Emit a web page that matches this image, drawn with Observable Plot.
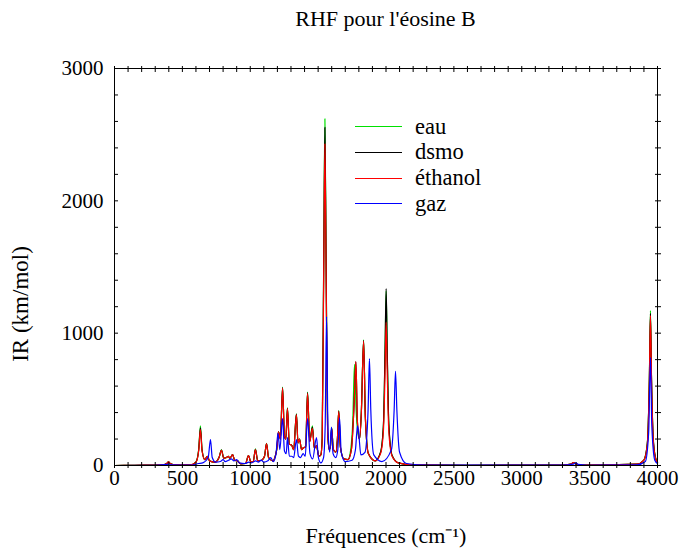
<!DOCTYPE html>
<html><head><meta charset="utf-8">
<script src="https://cdn.jsdelivr.net/npm/d3@7"></script>
<script src="https://cdn.jsdelivr.net/npm/@observablehq/plot@0.6"></script>
<style>
body{margin:0;background:#fff;font-family:"Liberation Serif","Times New Roman",serif;color:#000;}
#wrap{position:relative;width:679px;height:548px;overflow:hidden;}
#title{position:absolute;left:114px;width:543px;top:6px;text-align:center;font-size:22px;}
#chart{position:absolute;top:38px;left:0;}
#legend{position:absolute;left:355px;top:114px;font-size:22.5px;line-height:1;}
.row{display:flex;align-items:center;height:25.7px;}
.sw{width:47px;height:0;border-top:1.2px solid;margin-right:13px;}
</style></head>
<body>
<div id="wrap">
  <div id="title">RHF pour l'éosine B</div>
  <div id="chart"></div>
  <div id="legend"></div>
</div>
<script>
// Series names and colours
const seriesNames = ["eau", "dsmo", "éthanol", "gaz"];
const seriesColors = ["#00e000", "#000000", "#ff0000", "#0000ff"];

// Tick values
const xMajor = [0, 500, 1000, 1500, 2000, 2500, 3000, 3500, 4000];
const xMinor = d3.range(0, 4001, 100);
const yMajor = [0, 1000, 2000, 3000];
const yMinor = d3.range(0, 3001, 200);

// Spectra: [fréquence (cm-1), IR (km/mol)]
const ethanol = [[0,0],[150,2],[350,5],[385,15],[398,28],[410,15],[450,5],[560,5],[600,25],[620,110],[633,272],[645,110],[665,45],[685,70],[700,35],[740,25],[770,60],[788,115],[805,55],[825,60],[838,70],[850,55],[870,82],[885,40],[906,35],[930,12],[965,15],[987,75],[1005,25],[1022,30],[1038,120],[1055,35],[1085,40],[1105,70],[1120,165],[1135,60],[1165,35],[1195,120],[1208,255],[1222,200],[1238,585],[1252,220],[1262,200],[1274,430],[1288,160],[1304,155],[1320,120],[1340,385],[1352,170],[1363,200],[1378,120],[1392,135],[1408,140],[1422,545],[1438,180],[1458,280],[1472,130],[1488,150],[1505,70],[1520,80],[1530,200],[1542,1550],[1550,2430],[1558,1550],[1570,250],[1582,120],[1590,140],[1600,280],[1612,120],[1630,100],[1642,200],[1652,410],[1664,140],[1690,50],[1720,45],[1745,120],[1765,460],[1778,785],[1790,320],[1805,200],[1818,390],[1835,940],[1848,360],[1870,90],[1920,35],[1960,90],[1981,260],[1993,700],[2001,1083],[2009,700],[2021,250],[2045,70],[2090,20],[2200,5],[2600,2],[3300,3],[3360,10],[3382,22],[3400,10],[3450,3],[3850,10],[3900,40],[3925,160],[3940,640],[3948,1133],[3956,640],[3971,160],[3990,40],[4000,25]];

const eau = [[0,0],[150,2],[350,5],[385,15],[398,28],[410,15],[450,5],[560,5],[600,28],[620,120],[633,300],[645,120],[665,45],[685,70],[700,35],[740,25],[770,60],[788,118],[805,55],[825,60],[838,70],[850,55],[870,82],[885,40],[906,35],[930,12],[965,15],[987,75],[1005,25],[1022,30],[1038,125],[1055,35],[1085,40],[1105,70],[1120,168],[1135,60],[1165,35],[1195,120],[1208,255],[1222,200],[1238,592],[1252,220],[1262,200],[1274,435],[1288,160],[1304,155],[1320,120],[1340,390],[1352,170],[1363,200],[1378,120],[1392,135],[1408,140],[1422,555],[1438,185],[1458,300],[1472,130],[1488,150],[1505,70],[1520,80],[1530,210],[1542,1680],[1550,2620],[1558,1680],[1570,260],[1582,120],[1590,140],[1600,285],[1612,120],[1630,100],[1642,200],[1652,415],[1664,140],[1690,50],[1720,45],[1740,120],[1755,330],[1768,765],[1780,420],[1792,250],[1805,200],[1818,395],[1835,950],[1848,365],[1870,90],[1920,35],[1960,100],[1981,300],[1993,850],[2001,1320],[2009,850],[2021,300],[2045,75],[2090,20],[2200,5],[2600,2],[3300,3],[3360,10],[3382,22],[3400,10],[3450,3],[3850,10],[3900,42],[3925,170],[3940,660],[3948,1170],[3956,660],[3971,170],[3990,42],[4000,25]];

const dsmo = [[0,0],[150,2],[350,5],[385,15],[398,28],[410,15],[450,5],[560,5],[600,26],[620,115],[633,285],[645,115],[665,45],[685,70],[700,35],[740,25],[770,60],[788,116],[805,55],[825,60],[838,70],[850,55],[870,82],[885,40],[906,35],[930,12],[965,15],[987,75],[1005,25],[1022,30],[1038,122],[1055,35],[1085,40],[1105,70],[1120,166],[1135,60],[1165,35],[1195,120],[1208,255],[1222,200],[1238,588],[1252,220],[1262,200],[1274,432],[1288,160],[1304,155],[1320,120],[1340,388],[1352,170],[1363,200],[1378,120],[1392,135],[1408,140],[1422,550],[1438,182],[1458,290],[1472,130],[1488,150],[1505,70],[1520,80],[1530,205],[1542,1640],[1550,2555],[1558,1640],[1570,255],[1582,120],[1590,140],[1600,282],[1612,120],[1630,100],[1642,200],[1652,412],[1664,140],[1690,50],[1720,45],[1745,120],[1765,460],[1778,785],[1790,320],[1805,200],[1818,392],[1835,945],[1848,362],[1870,90],[1920,35],[1960,100],[1981,310],[1993,870],[2001,1337],[2009,870],[2021,310],[2045,75],[2090,20],[2200,5],[2600,2],[3300,3],[3360,10],[3382,22],[3400,10],[3450,3],[3850,10],[3900,41],[3925,165],[3940,650],[3948,1150],[3956,650],[3971,165],[3990,41],[4000,25]];

const gaz = [[0,0],[300,2],[390,8],[400,12],[415,5],[560,3],[620,15],[650,20],[690,60],[707,195],[720,60],[745,25],[780,30],[800,45],[815,30],[840,40],[860,50],[880,35],[900,45],[920,20],[960,15],[990,25],[1010,20],[1040,35],[1060,25],[1080,40],[1100,25],[1130,35],[1150,60],[1170,30],[1190,90],[1204,245],[1218,120],[1238,355],[1252,110],[1265,90],[1274,210],[1288,70],[1305,70],[1320,60],[1340,195],[1355,70],[1370,60],[1390,90],[1405,70],[1422,355],[1440,90],[1460,50],[1488,210],[1502,60],[1520,20],[1540,60],[1552,300],[1562,1125],[1572,300],[1585,100],[1598,290],[1610,90],[1630,60],[1645,120],[1658,360],[1670,100],[1700,30],[1750,40],[1775,120],[1790,300],[1800,230],[1815,80],[1845,100],[1868,420],[1878,808],[1888,420],[1910,80],[1970,30],[2040,120],[2060,420],[2070,712],[2080,420],[2100,100],[2150,15],[2300,3],[3300,3],[3380,10],[3400,20],[3415,8],[3480,2],[3850,5],[3910,30],[3935,250],[3948,815],[3958,300],[3980,40],[4000,15]];

const spectra = [eau, dsmo, ethanol, gaz];
const rows = spectra.flatMap((pts, i) => pts.map(([f, ir]) => ({name: seriesNames[i], f, ir})));

const tickOpts = {fill: "none", label: null, stroke: "black"};
const chart = Plot.plot({
  width: 679, height: 510,
  marginLeft: 114, marginRight: 22, marginTop: 30, marginBottom: 83,
  style: {fontFamily: "'Liberation Serif','Times New Roman',serif", fontSize: "21px", color: "black", background: "white"},
  x: {domain: [0, 4000]},
  y: {domain: [0, 3000]},
  color: {domain: seriesNames, range: seriesColors},
  marks: [
    Plot.line(rows, {x: "f", y: "ir", z: "name", stroke: "name", strokeWidth: 1.2, curve: "monotone-x"}),
    Plot.frame({stroke: "black", strokeWidth: 1}),
    Plot.axisX(xMinor, {anchor: "bottom", tickSize: 3, ...tickOpts}),
    Plot.axisX(xMinor, {anchor: "bottom", tickSize: -3, ...tickOpts}),
    Plot.axisX(xMinor, {anchor: "top", tickSize: 3, ...tickOpts}),
    Plot.axisX(xMinor, {anchor: "top", tickSize: -3, ...tickOpts}),
    Plot.axisY(yMinor, {anchor: "left", tickSize: -4, ...tickOpts}),
    Plot.axisY(yMinor, {anchor: "right", tickSize: 3, ...tickOpts}),
    Plot.axisY(yMinor, {anchor: "right", tickSize: -3, ...tickOpts}),
    Plot.axisX(xMajor, {anchor: "bottom", tickSize: 0, tickPadding: 5, label: null, tickFormat: d => String(d)}),
    Plot.axisY(yMajor, {anchor: "left", tickSize: 0, tickPadding: 11, label: null, tickFormat: d => String(d)}),
    Plot.text(["Fréquences (cm⁻¹)"], {frameAnchor: "bottom", dy: 77, fontSize: 22, textAnchor: "middle", text: d => d}),
    Plot.text(["IR (km/mol)"], {frameAnchor: "left", dx: -94, dy: 37, rotate: -90, fontSize: 23, textAnchor: "middle", text: d => d})
  ]
});
document.getElementById("chart").appendChild(chart);

const legend = document.getElementById("legend");
seriesNames.forEach((n, i) => {
  const row = document.createElement("div");
  row.className = "row";
  const sw = document.createElement("span");
  sw.className = "sw";
  sw.style.borderTopColor = seriesColors[i];
  const t = document.createElement("span");
  t.textContent = n;
  row.appendChild(sw); row.appendChild(t);
  legend.appendChild(row);
});
</script>
</body></html>
